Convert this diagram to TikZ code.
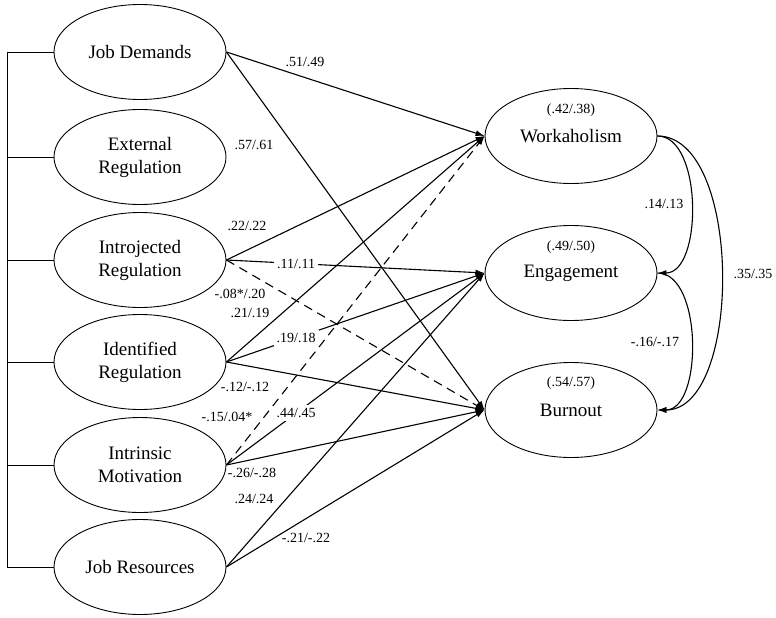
\documentclass[tikz,border=0pt]{standalone}
\usepackage{fontspec}
\setmainfont{Liberation Serif}
\usetikzlibrary{arrows.meta,shapes.geometric,positioning,calc}

\begin{document}
\begin{tikzpicture}[x=1pt,y=-1pt,
  var/.style={draw, ellipse, line width=0.9pt, minimum width=172pt,
    minimum height=95pt, inner sep=0pt, align=center,
    font=\fontsize{19}{23}\selectfont},
  coef/.style={font=\fontsize{14}{16}\selectfont, inner sep=1pt},
  coefw/.style={coef, fill=white, inner sep=3pt},
  eff/.style={-{Latex[length=9pt,width=6pt]}, line width=1.1pt},
  effd/.style={eff, dash pattern=on 9pt off 6pt}]
  \useasboundingbox (0,0) rectangle (776,618);

  % predictors
  \node[var] (jd) at (140,52) {Job Demands};
  \node[var] (ext) at (140,157) {External\\Regulation};
  \node[var] (intro) at (140,260) {Introjected\\Regulation};
  \node[var] (ident) at (140,362) {Identified\\Regulation};
  \node[var] (intr) at (140,465) {Intrinsic\\Motivation};
  \node[var] (jr) at (140,567) {Job Resources};

  % outcomes
  \node[var] (work) at (571,136) {Workaholism};
  \node[var] (eng) at (571,273) {Engagement};
  \node[var] (burn) at (571,410) {Burnout};
  \node[coef] (rwork) at (571,110) {(.42/.38)};
  \node[coef] (reng) at (571,247) {(.49/.50)};
  \node[coef] (rburn) at (571,383) {(.54/.57)};

  % bracket on the left
  \coordinate (br) at (7,52);
  \draw[line width=0.9pt] (jd.west -| br) -- (jr.west -| br);
  \foreach \n in {jd,ext,intro,ident,intr,jr}
    \draw[line width=0.9pt] (\n.west) -- (\n.west -| br);

  % paths
  \draw[eff] (jd.east) -- (work.west);
  \draw[eff] (jd.east) -- (burn.west);
  \draw[eff] (intro.east) -- (work.west);
  \draw[eff] (intro.east) -- node[coefw, pos=0.27] (c11) {.11/.11} (eng.west);
  \draw[effd] (intro.east) -- (burn.west);
  \draw[eff] (ident.east) -- (work.west);
  \draw[eff] (ident.east) -- node[coefw, pos=0.27] (c19) {.19/.18} (eng.west);
  \draw[eff] (ident.east) -- (burn.west);
  \draw[effd] (intr.east) -- (work.west);
  \draw[eff] (intr.east) -- node[coefw, pos=0.27] (c44) {.44/.45} (eng.west);
  \draw[eff] (intr.east) -- (burn.west);
  \draw[eff] (jr.east) -- (eng.west);
  \draw[eff] (jr.east) -- (burn.west);

  \draw[eff] (work.east) to[out=0, in=0, looseness=0.85] (eng.east);
  \draw[eff] (eng.east) to[out=0, in=0, looseness=0.85] (burn.east);
  \draw[eff] (work.east) to[out=0, in=0, looseness=0.8] (burn.east);

  % coefficients
  \node[coef] (c51) at (305,62) {.51/.49};
  \node[coef] (c57) at (254,145) {.57/.61};
  \node[coef] (c22) at (247,226) {.22/.22};
  \node[coef] (c08) at (240,294) {-.08*/.20};
  \node[coef] (c21) at (250,313) {.21/.19};
  \node[coef] (c12) at (245,387) {-.12/-.12};
  \node[coef] (c15) at (227,417) {-.15/.04*};
  \node[coef] (c26) at (252,473) {-.26/-.28};
  \node[coef] (c24) at (254,499) {.24/.24};
  \node[coef] (c21b) at (306,538) {-.21/-.22};
  \node[coef] (c14) at (664,204) {.14/.13};
  \node[coef] (c16) at (655,342) {-.16/-.17};
  \node[coef] (c35) at (753,274) {.35/.35};
\end{tikzpicture}
\end{document}
